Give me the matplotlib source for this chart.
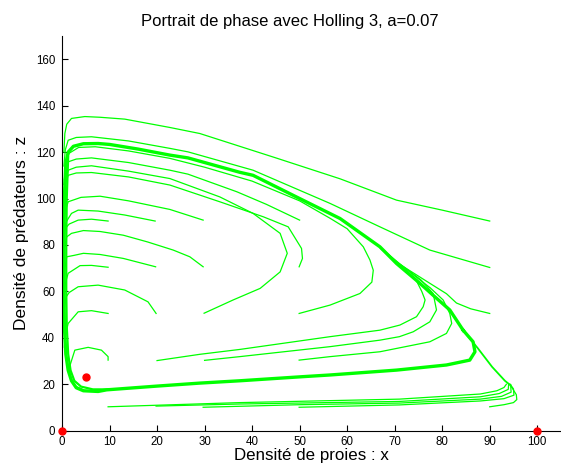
import numpy as np
import matplotlib
matplotlib.use("Agg")
import matplotlib.pyplot as plt

plt.rcParams['font.family'] = ['Liberation Sans', 'DejaVu Sans']

# trajectories (x = prey, z = predators), one per starting point
traj_90_90 = [(90, 90.3), (80, 95), (70.4, 99.3), (58.5, 108.5), (45, 117.5), (29, 128), (22.7, 130.6),
              (13.2, 134.2), (8, 135), (4.8, 135.3), (2, 134.5), (1, 132), (0.6, 128), (0.4, 120)]
traj_90_70 = [(90, 70.3), (77.4, 77.8), (66.9, 87.8), (56.4, 97.9), (40.2, 112.2), (26.5, 120.1), (22.7, 121.6),
              (14, 124.8), (6.2, 126.6), (3, 126.3), (1.3, 125.1), (0.7, 121), (0.4, 114)]
traj_50_90 = [(50, 90.7), (43, 97.5), (36.8, 102.9), (26.5, 110.5), (22.7, 112.2), (14, 115.5), (6.2, 117.5),
              (3, 117), (1.3, 115.8), (0.7, 112), (0.4, 106)]
traj_50_70 = [(49.9, 70.6), (50.6, 74.2), (50.4, 78.5), (47.6, 87.8), (42.4, 92.1), (33.2, 98.6), (22.7, 105.8),
              (14, 109.3), (6.2, 111.2), (3, 111), (1.3, 110), (0.7, 106), (0.4, 100)]
traj_50_50 = [(49.9, 50.5), (56.4, 54.1), (62.7, 59.1), (65.2, 64), (65.5, 69.1), (64.8, 73.5), (63.4, 79.2),
              (60, 87), (56.4, 91.5), (50, 99), (40, 107.5), (30, 113.5), (22.7, 117.3), (14, 120.5),
              (7, 122.3), (3.5, 122), (1.5, 119.5), (0.8, 115), (0.5, 108)]
traj_30_90 = [(29.7, 90.7), (22.7, 95.3), (14, 99), (8, 101), (4, 100.5), (1.3, 98.6), (0.6, 94), (0.4, 88)]
traj_30_70 = [(29.7, 70.6), (26.9, 74.9), (23.4, 77.8), (18, 81.3), (12.9, 84.2), (8, 85.8), (4.5, 86.2),
              (2, 85), (1, 83.5), (0.5, 79), (0.4, 72)]
traj_30_50 = [(29.9, 50.6), (36, 56.3), (41.7, 61.3), (45.9, 68.4), (47.4, 76.4), (45.9, 85), (40.2, 93.6),
              (33.2, 100.7), (22.7, 108.6), (14, 111.8), (6.2, 114.1), (3, 113.5), (1.3, 112.2),
              (0.7, 108), (0.4, 102)]
traj_20_90 = [(19.6, 90.3), (13.2, 92.9), (7.6, 94.6), (3.4, 95), (2, 93.6), (0.9, 90), (0.5, 86), (0.4, 80)]
traj_20_70 = [(19.7, 70.6), (12.9, 74.2), (8, 75.9), (4.5, 76.4), (2.5, 75.5), (1, 74.9), (0.6, 70), (0.4, 64)]
traj_20_50 = [(19.8, 50.5), (18.1, 55.5), (13.2, 60.6), (7.6, 62.7), (3.4, 62), (1.5, 59.5), (0.9, 57.7),
              (0.5, 53), (0.4, 47)]
traj_10_90 = [(9.7, 90.3), (6.2, 91.1), (3.4, 90.7), (1.5, 89), (0.7, 87.1), (0.4, 83), (0.4, 77)]
traj_10_70 = [(9.7, 70.4), (6.2, 71.2), (3.8, 71.1), (1.3, 67.8), (0.7, 63.5), (0.4, 58)]
traj_10_50 = [(9.7, 50.5), (6.2, 51.7), (3.4, 51.2), (1.3, 46.2), (0.7, 41), (0.5, 36)]
traj_10_30 = [(9.7, 30.4), (9.7, 31.9), (8.3, 34.7), (5.5, 35.9), (2.7, 34.7), (1.6, 27.6), (1.8, 22.5),
              (2.8, 19.2), (4.5, 17.6)]

# starting points low on the z axis, heading right
traj_20_30 = [(20, 30.2), (29, 32.9), (37.4, 35), (56.4, 40.5), (66.9, 43.3), (71.1, 45.5), (74.6, 49.1),
              (76, 53.4), (76.4, 56.3), (75.7, 60), (74.5, 64.9), (70.4, 72.5), (67, 78.5)]
traj_30_30 = [(30, 30.3), (37.4, 31.9), (56.4, 36.2), (66.9, 39), (71, 40.5), (73.9, 42.6), (77.4, 46.9),
              (78.8, 52), (78.1, 59.1), (75.5, 65), (71, 72), (67, 78.8)]
traj_50_30 = [(49.9, 30.4), (56.4, 31.9), (66.9, 34), (77.4, 38.3), (80.9, 41.9), (82, 46.2), (81.6, 50.5),
              (80.2, 56.3), (77.5, 61.5), (74, 67), (70, 73.5), (67, 79)]
traj_90_50 = [(90, 50.5), (86, 52.5), (83, 55), (80.9, 59), (77, 64), (73.9, 68), (70, 73), (67, 79)]
traj_10_10 = [(9.7, 10.3), (37.4, 12.1), (71, 13.6), (88, 15.8), (91.5, 17.2), (93, 18.6), (93.5, 20)]
traj_20_10 = [(19.8, 10.6), (37.4, 11.5), (71, 12.6), (88, 14.6), (92, 16), (93.9, 17.8), (94, 20.2)]
traj_30_10 = [(29.7, 10.1), (50, 11.2), (71, 11.9), (88, 13.6), (92.5, 14.8), (94.5, 16.6), (94.4, 19.8)]
traj_50_10 = [(49.9, 10.1), (71, 11.1), (88, 12.8), (93, 13.8), (95.1, 15.3), (95, 18), (94.3, 20)]
traj_90_10 = [(90, 10.3), (93, 11.2), (95, 12.1), (95.7, 13.4), (95.6, 15.5), (95, 17.5), (94.3, 19.7)]

# shared return branch from the lower right corner
diag_x = [94.3, 93.2, 90.5, 87.5, 84.4]
diag_z = [19.7, 21.5, 27.5, 35.5, 43.3]

# limit cycle
cycle_x = [84.4, 81.6, 78, 75.3, 70.4, 66.9, 58.5, 50, 40.2, 37.4, 26.5, 22.7, 16, 10, 7.6, 4.5, 2.4, 1.3,
           0.8, 0.5, 0.4, 0.4, 0.5, 0.8, 1.3, 2, 3, 4.5, 7.6, 9.4, 19.9, 29, 37.4, 50.1, 56.4, 70.4, 80.9,
           85.8, 86.9, 86.5, 84.4]
cycle_z = [43.3, 52, 58.5, 63.5, 72, 79.2, 91.4, 100, 110, 111.3, 117.5, 118.7, 121.3, 123.3, 123.7, 123.6,
           122.5, 120, 115, 100, 80, 60, 45, 33, 26, 21.5, 18.5, 17.2, 16.9, 17.6, 19.2, 20.5, 21.5, 23.2,
           24, 26.1, 28.3, 30.4, 34, 38.3, 43.3]
bundle_x = [1.3, 1.0, 0.9, 0.9, 1.0, 1.3, 1.8, 2.6, 4, 6.5, 10]
bundle_z = [118, 100, 80, 60, 45, 33, 26, 21.5, 19, 17.8, 17.8]

# equilibria
eq_x = [0, 100, 5.1]
eq_z = [0, 0, 23]

trajectories = [traj_90_90, traj_90_70, traj_50_90, traj_50_70, traj_50_50, traj_30_90, traj_30_70,
                traj_30_50, traj_20_90, traj_20_70, traj_20_50, traj_10_90, traj_10_70, traj_10_50,
                traj_10_30, traj_20_30, traj_30_30, traj_50_30, traj_90_50, traj_10_10, traj_20_10,
                traj_30_10, traj_50_10, traj_90_10]

green = '#00ff00'
fig = plt.figure(figsize=(5.61, 4.65), dpi=100)
ax = fig.add_axes([62 / 561, 34.3 / 465, 499 / 561, 394.7 / 465])

for tr in trajectories:
    t = np.array(tr)
    ax.plot(t[:, 0], t[:, 1], color=green, lw=0.9)
ax.plot(diag_x, diag_z, color=green, lw=1.3)
ax.plot(bundle_x, bundle_z, color=green, lw=1.6)
ax.plot(cycle_x, cycle_z, color=green, lw=2.4, solid_joinstyle='round')

ax.plot(eq_x, eq_z, 'o', color='red', markersize=5, clip_on=False, zorder=5)

ax.set_xlim(0, 105)
ax.set_ylim(0, 170)
ax.set_xticks(np.arange(0, 101, 10))
ax.set_yticks(np.arange(0, 161, 20))
ax.spines['top'].set_visible(False)
ax.spines['right'].set_visible(False)
ax.tick_params(direction='in', length=4, width=0.8, labelsize=8.3)
ax.tick_params(axis='y', pad=5)
ax.tick_params(axis='x', pad=3.5)
ax.set_title("Portrait de phase avec Holling 3, a=0.07", fontsize=12, x=0.456, pad=7.5)
ax.set_xlabel("Densité de proies : x", fontsize=12.2, labelpad=0.5)
ax.set_ylabel("Densité de prédateurs : z", fontsize=12.5, labelpad=5)

fig.savefig("out.png", dpi=100)
